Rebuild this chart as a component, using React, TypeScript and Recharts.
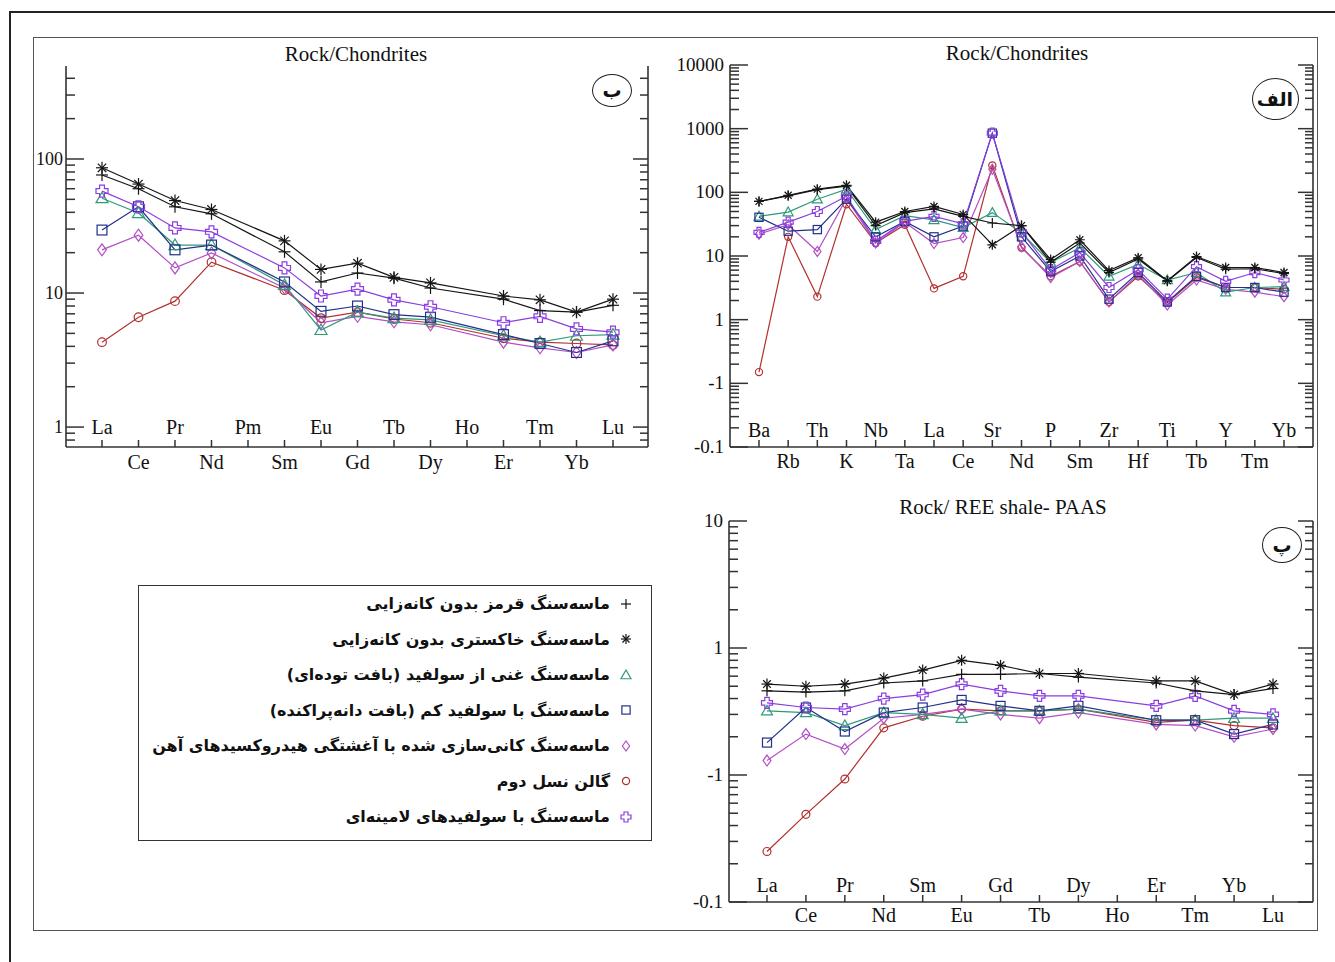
import React from 'react';
import { LineChart, Line, XAxis, YAxis } from 'recharts';

const SERIF = '"Liberation Serif", "Times New Roman", serif';
const FA = '"DejaVu Sans", sans-serif';
const AX = '#333';

// (ب) REE, Rock/Chondrites
const reeCats = ['La', 'Ce', 'Pr', 'Nd', 'Pm', 'Sm', 'Eu', 'Gd', 'Tb', 'Dy', 'Ho', 'Er', 'Tm', 'Yb', 'Lu'];
const reePlus = [76, 60, 44, 39, null, 20.3, 12.1, 14.1, 12.9, 10.9, null, 9.0, 7.4, 7.2, 8.1];
const reeStar = [86, 65, 49, 42, null, 24.5, 15, 16.7, 13.1, 11.9, null, 9.5, 8.9, 7.2, 9.0];
const reeTri = [51, 39.5, 22.8, 22.8, null, 11.5, 5.3, 7.2, 6.5, 6.3, null, 4.8, 4.3, 4.8, 4.9];
const reeSq = [29.5, 44, 21, 22.8, null, 12.1, 7.3, 8.0, 6.9, 6.6, null, 4.9, 4.2, 3.6, 4.4];
const reeDia = [21, 27, 15.4, 19.9, null, 10.9, 6.0, 6.7, 6.1, 5.8, null, 4.3, 3.9, 3.6, 4.1];
const reeCirc = [4.3, 6.6, 8.7, 17, null, 10.5, 6.5, 7.2, 6.4, 6.0, null, 4.6, 4.3, 4.2, 4.1];
const reeCross = [57.6, 44, 30.6, 28.6, null, 15.4, 9.5, 10.7, 8.9, 7.9, null, 6.0, 6.7, 5.4, 5.1];
const reeTicks = [1, 10, 100];
const reeTickLabels = ['1', '10', '100'];

// (الف) spider diagram, Rock/Chondrites
const trCats = ['Ba', 'Rb', 'Th', 'K', 'Nb', 'Ta', 'La', 'Ce', 'Sr', 'Nd', 'P', 'Sm', 'Zr', 'Hf', 'Ti', 'Tb', 'Y', 'Tm', 'Yb'];
const trStar = [72, 90, 112, 129, 34, 50, 60, 45, 15, 30, 8.8, 18, 5.9, 9.4, 4.1, 9.8, 6.6, 6.6, 5.5];
const trPlus = [72, 88, 110, 125, 30, 48, 55, 42, 33, 30, 8.0, 16, 5.5, 9.0, 4.0, 9.5, 6.2, 6.3, 5.3];
const trTri = [42, 49, 78, 112, 26, 43, 37, 28, 48, 23, 7.9, 13.5, 4.8, 7.4, 4.2, 5.5, 2.7, 3.2, 3.3];
const trSq = [40.5, 24.5, 26, 78, 20, 35, 20, 29.5, 850, 20, 5.7, 10, 2.1, 5.5, 1.9, 4.8, 3.2, 3.2, 2.7];
const trDia = [22, 31, 11.8, 80, 16, 34, 15.7, 19.5, 230, 14, 4.6, 8.2, 1.9, 5.1, 1.7, 4.2, 3.0, 2.7, 2.3];
const trCirc = [0.15, 20, 2.3, 65, 16, 31, 3.1, 4.8, 265, 13.5, 4.8, 8.2, 1.9, 4.8, 1.85, 4.6, 3.2, 3.2, 3.0];
const trCross = [23.5, 34, 50, 87, 17, 35, 42, 32, 850, 24, 6.1, 11.3, 3.2, 6.1, 2.1, 6.8, 4.0, 5.5, 4.2];
const trTicks = [0.01, 0.1, 1, 10, 100, 1000, 10000];
const trTickLabels = ['-0.1', '-1', '1', '10', '100', '1000', '10000'];

// (پ) REE, Rock/ REE shale- PAAS
const paCats = ['La', 'Ce', 'Pr', 'Nd', 'Sm', 'Eu', 'Gd', 'Tb', 'Dy', 'Ho', 'Er', 'Tm', 'Yb', 'Lu'];
const paStar = [0.52, 0.50, 0.52, 0.58, 0.67, 0.80, 0.73, 0.63, 0.63, null, 0.55, 0.55, 0.43, 0.52];
const paPlus = [0.46, 0.45, 0.46, 0.53, 0.55, 0.62, 0.62, 0.63, 0.59, null, 0.53, 0.46, 0.43, 0.48];
const paCross = [0.37, 0.34, 0.33, 0.40, 0.43, 0.52, 0.46, 0.42, 0.42, null, 0.35, 0.42, 0.32, 0.30];
const paTri = [0.32, 0.31, 0.245, 0.31, 0.30, 0.28, 0.32, 0.32, 0.33, null, 0.27, 0.27, 0.28, 0.28];
const paSq = [0.18, 0.34, 0.22, 0.31, 0.34, 0.39, 0.35, 0.32, 0.35, null, 0.27, 0.27, 0.21, 0.25];
const paDia = [0.13, 0.21, 0.16, 0.28, 0.30, 0.33, 0.30, 0.28, 0.31, null, 0.25, 0.245, 0.20, 0.23];
const paCirc = [0.025, 0.049, 0.093, 0.235, 0.29, 0.33, 0.32, 0.32, 0.33, null, 0.26, 0.27, 0.245, 0.235];
const paTicks = [0.01, 0.1, 1, 10];
const paTickLabels = ['-0.1', '-1', '1', '10'];

// legend labels, same order as the box
const legendKeys = ['plus', 'star', 'tri', 'sq', 'dia', 'circ', 'cross'];
const legendLabels = [
  'ماسه\u200cسنگ قرمز بدون کانه\u200cزایی',
  'ماسه\u200cسنگ خاکستری بدون کانه\u200cزایی',
  'ماسه\u200cسنگ غنی از سولفید (بافت توده\u200cای)',
  'ماسه\u200cسنگ با سولفید کم (بافت دانه\u200cپراکنده)',
  'ماسه\u200cسنگ کانی\u200cسازی شده با آغشتگی هیدروکسیدهای آهن',
  'گالن نسل دوم',
  'ماسه\u200cسنگ با سولفیدهای لامینه\u200cای',
];

const COLORS: Record<string, string> = {
  plus: '#151515',
  star: '#151515',
  tri: '#2f9a78',
  sq: '#22308a',
  dia: '#b24fc6',
  circ: '#b3302f',
  cross: '#8a3de0',
};
// drawing order (bottom first)
const drawOrder = ['circ', 'dia', 'tri', 'sq', 'cross', 'plus', 'star'];

const toRows = (cats: string[], s: Record<string, (number | null)[]>) =>
  cats.map((el, i) => {
    const row: any = { el };
    Object.keys(s).forEach((k) => (row[k] = s[k][i]));
    return row;
  });

const reeRows = toRows(reeCats, { plus: reePlus, star: reeStar, tri: reeTri, sq: reeSq, dia: reeDia, circ: reeCirc, cross: reeCross });
const trRows = toRows(trCats, { plus: trPlus, star: trStar, tri: trTri, sq: trSq, dia: trDia, circ: trCirc, cross: trCross });
const paRows = toRows(paCats, { plus: paPlus, star: paStar, tri: paTri, sq: paSq, dia: paDia, circ: paCirc, cross: paCross });

// log minor ticks (1..9 of every decade) inside the domain
const logTicks = (lo: number, hi: number) => {
  const out: number[] = [];
  for (let e = Math.floor(Math.log10(lo)); e <= Math.ceil(Math.log10(hi)); e++) {
    for (let m = 1; m <= 9; m++) {
      const v = +(m * Math.pow(10, e)).toPrecision(6);
      if (v >= lo && v <= hi) out.push(v);
    }
  }
  return out;
};
const isMajor = (v: number) => Math.abs(Math.log10(v) - Math.round(Math.log10(v))) < 1e-6;

const Marker = ({ shape, x, y, r, color }: { shape: string; x: number; y: number; r: number; color: string }) => {
  const sw = 1.2;
  const common = { stroke: color, strokeWidth: sw, fill: 'none' };
  switch (shape) {
    case 'plus':
      return (
        <g {...common}>
          <line x1={x - r} x2={x + r} y1={y} y2={y} />
          <line x1={x} x2={x} y1={y - r} y2={y + r} />
        </g>
      );
    case 'star': {
      const d = r * 0.7;
      return (
        <g {...common}>
          <line x1={x - r} x2={x + r} y1={y} y2={y} />
          <line x1={x} x2={x} y1={y - r} y2={y + r} />
          <line x1={x - d} x2={x + d} y1={y - d} y2={y + d} />
          <line x1={x - d} x2={x + d} y1={y + d} y2={y - d} />
        </g>
      );
    }
    case 'tri':
      return <polygon {...common} points={`${x},${y - r} ${x + r},${y + r * 0.75} ${x - r},${y + r * 0.75}`} />;
    case 'sq':
      return <rect {...common} x={x - r * 0.82} y={y - r * 0.82} width={r * 1.64} height={r * 1.64} />;
    case 'dia':
      return <polygon {...common} points={`${x},${y - r} ${x + r * 0.72},${y} ${x},${y + r} ${x - r * 0.72},${y}`} />;
    case 'circ':
      return <circle {...common} cx={x} cy={y} r={r * 0.72} />;
    default: {
      const a = r * 0.4;
      const p = [
        [x - a, y - r], [x + a, y - r], [x + a, y - a], [x + r, y - a], [x + r, y + a], [x + a, y + a],
        [x + a, y + r], [x - a, y + r], [x - a, y + a], [x - r, y + a], [x - r, y - a], [x - a, y - a],
      ];
      return <polygon {...common} points={p.map((q) => q.join(',')).join(' ')} />;
    }
  }
};

const makeDot = (shape: string, r: number) => (p: any) => {
  if (p.cx == null || p.cy == null || p.value == null) return <g key={`e-${p.index}`} />;
  return <Marker key={`m-${p.index}`} shape={shape} x={p.cx} y={p.cy} r={r} color={COLORS[shape]} />;
};

interface PanelProps {
  rows: any[];
  x0: number;
  x1: number;
  y0: number;
  y1: number;
  leftW: number;
  padL: number;
  padR: number;
  domain: [number, number];
  majors: number[];
  majorLabels: string[];
  r: number;
  inUp: number;
  outDown: number;
  labelGap?: number;
  labelSize?: number;
}

const Panel = (props: PanelProps) => {
  const { rows, x0, x1, y0, y1, leftW, padL, padR, domain, majors, majorLabels, r, inUp, outDown } = props;
  const labelGap = props.labelGap ?? 6;
  const labelSize = props.labelSize ?? 19;
  const top = 14;
  const bottomH = 32;
  const width = x1 - x0 + leftW + 1;
  const height = y1 - y0 + top + bottomH;
  const ticks = logTicks(domain[0], domain[1]);

  const BottomTick = (p: any) => {
    const inside = p.index % 2 === 0;
    return (
      <g>
        <line x1={p.x} x2={p.x} y1={p.y} y2={p.y - 7} stroke={AX} strokeWidth={1.5} />
        <text x={p.x} y={inside ? p.y - inUp : p.y + outDown} textAnchor="middle" fontFamily={SERIF} fontSize={20} fill="#111">
          {p.payload.value}
        </text>
      </g>
    );
  };
  const TopTick = (p: any) => <line x1={p.x} x2={p.x} y1={p.y} y2={p.y + 7} stroke={AX} strokeWidth={1.5} />;
  const LeftTick = (p: any) => {
    const v = p.payload.value;
    const mj = isMajor(v);
    const idx = majors.findIndex((m) => Math.abs(m - v) < 1e-9);
    return (
      <g>
        <line x1={p.x} x2={p.x + (mj ? 18 : 9)} y1={p.y} y2={p.y} stroke={AX} strokeWidth={1.5} />
        {mj && idx >= 0 && (
          <text x={p.x - labelGap} y={p.y + 6} textAnchor="end" fontFamily={SERIF} fontSize={labelSize} fill="#111">
            {majorLabels[idx]}
          </text>
        )}
      </g>
    );
  };
  const RightTick = (p: any) => {
    const mj = isMajor(p.payload.value);
    return <line x1={p.x} x2={p.x - (mj ? 15 : 8)} y1={p.y} y2={p.y} stroke={AX} strokeWidth={1.5} />;
  };

  return (
    <div style={{ position: 'absolute', left: x0 - leftW, top: y0 - top }}>
      <LineChart width={width} height={height} data={rows} margin={{ top, right: 0, bottom: 0, left: 0 }}>
        <XAxis
          dataKey="el"
          padding={{ left: padL, right: padR }}
          height={bottomH}
          interval={0}
          tickSize={0}
          tickMargin={0}
          tickLine={false}
          axisLine={{ stroke: AX, strokeWidth: 1.6 }}
          tick={BottomTick}
        />
        <XAxis
          xAxisId="top"
          orientation="top"
          dataKey="el"
          padding={{ left: padL, right: padR }}
          height={0}
          interval={0}
          tickSize={0}
          tickMargin={0}
          tickLine={false}
          axisLine={{ stroke: AX, strokeWidth: 1.6 }}
          tick={TopTick}
        />
        <YAxis
          type="number"
          scale="log"
          domain={domain}
          allowDataOverflow
          ticks={ticks}
          interval={0}
          width={leftW}
          tickSize={0}
          tickMargin={0}
          tickLine={false}
          axisLine={{ stroke: AX, strokeWidth: 1.6 }}
          tick={LeftTick}
        />
        <YAxis
          yAxisId="r"
          orientation="right"
          type="number"
          scale="log"
          domain={domain}
          allowDataOverflow
          ticks={ticks}
          interval={0}
          width={1}
          tickSize={0}
          tickMargin={0}
          tickLine={false}
          axisLine={{ stroke: AX, strokeWidth: 1.6 }}
          tick={RightTick}
        />
        {drawOrder.map((k) => (
          <Line
            key={k}
            dataKey={k}
            stroke={COLORS[k]}
            strokeWidth={1.2}
            connectNulls
            dot={makeDot(k, r)}
            activeDot={false}
            isAnimationActive={false}
            type="linear"
          />
        ))}
      </LineChart>
    </div>
  );
};

const Title = ({ x, y, text }: { x: number; y: number; text: string }) => (
  <div style={{ position: 'absolute', left: x - 200, top: y - 13, width: 400, textAlign: 'center', fontFamily: SERIF, fontSize: 21, lineHeight: '26px', color: '#111' }}>
    {text}
  </div>
);

const Badge = ({ x, y, w, h, text }: { x: number; y: number; w: number; h: number; text: string }) => (
  <div
    style={{
      position: 'absolute', left: x - w / 2, top: y - h / 2, width: w, height: h, boxSizing: 'border-box',
      border: '1.5px solid #222', borderRadius: '50%', display: 'flex', alignItems: 'center', justifyContent: 'center',
      fontFamily: FA, fontWeight: 'bold', fontSize: 19, color: '#111', direction: 'rtl', background: '#fff',
    }}
  >
    {text}
  </div>
);

const LegendBox = () => (
  <div
    style={{
      position: 'absolute', left: 138, top: 585, width: 514, height: 256, boxSizing: 'border-box',
      border: '1.5px solid #333', paddingRight: 18, paddingTop: 0, direction: 'rtl', background: '#fff',
    }}
  >
    {legendKeys.map((k, i) => (
      <div key={k} style={{ display: 'flex', alignItems: 'center', height: 35.5, gap: 9 }}>
        <svg width={14} height={14} style={{ flex: 'none' }}>
          <Marker shape={k} x={7} y={7} r={5} color={COLORS[k]} />
        </svg>
        <span style={{ fontFamily: FA, fontWeight: 'bold', fontSize: 16, color: '#111', whiteSpace: 'nowrap' }}>{legendLabels[i]}</span>
      </div>
    ))}
  </div>
);

export default function App() {
  return (
    <div style={{ position: 'absolute', left: 0, top: 0, width: 1335, height: 962, background: '#fff', overflow: 'hidden' }}>
      {/* cropped outer frame */}
      <div style={{ position: 'absolute', left: 9, top: 11, width: 1400, height: 1000, borderTop: '2.5px solid #222', borderLeft: '2.5px solid #222' }} />
      {/* inner panel */}
      <div style={{ position: 'absolute', left: 35, top: 39, width: 1281, height: 890, overflow: 'hidden' }}>
        <div style={{ position: 'absolute', left: -35, top: -39, width: 1335, height: 962 }}>
          <Panel rows={reeRows} x0={66} x1={648} y0={66} y1={447} leftW={46} padL={36} padR={35}
            domain={[0.71, 494]} majors={reeTicks} majorLabels={reeTickLabels} r={6} inUp={13} outDown={22}
            labelGap={3} labelSize={18} />
          <Panel rows={trRows} x0={730} x1={1313} y0={65} y1={447} leftW={62} padL={29} padR={29}
            domain={[0.01, 10000]} majors={trTicks} majorLabels={trTickLabels} r={5} inUp={10} outDown={21} />
          <Panel rows={paRows} x0={729} x1={1313} y0={521} y1={902} leftW={60} padL={38} padR={40}
            domain={[0.01, 10]} majors={paTicks} majorLabels={paTickLabels} r={5.5} inUp={10} outDown={20} />
          <Title x={356} y={54} text="Rock/Chondrites" />
          <Title x={1017} y={53} text="Rock/Chondrites" />
          <Title x={1003} y={507} text="Rock/ REE shale- PAAS" />
          <Badge x={612} y={90} w={40} h={33} text="ب" />
          <Badge x={1275} y={99} w={47} h={42} text="الف" />
          <Badge x={1282} y={545} w={40} h={36} text="پ" />
          <LegendBox />
        </div>
      </div>
      <div style={{ position: 'absolute', left: 33, top: 37, width: 1285, height: 894, boxSizing: 'border-box', border: '1.5px solid #555' }} />
    </div>
  );
}
